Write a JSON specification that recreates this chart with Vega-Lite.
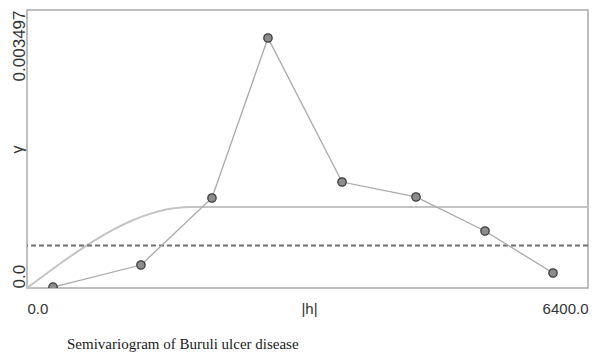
{
  "$schema": "https://vega.github.io/schema/vega-lite/v6.json",
  "width": 561,
  "height": 278,
  "autosize": {"type": "none"},
  "padding": {"left": 27, "top": 10, "right": 5, "bottom": 68},
  "background": "white",
  "config": {
    "view": {"stroke": "#a9a9a9", "strokeWidth": 1.5},
    "font": "Liberation Sans"
  },
  "title": {
    "text": "Semivariogram of Buruli ulcer disease",
    "orient": "bottom",
    "anchor": "start",
    "frame": "group",
    "font": "Liberation Serif",
    "fontSize": 15,
    "fontWeight": "normal",
    "color": "#1a1a1a",
    "dx": 40,
    "offset": 21
  },
  "datasets": {
    "model": [
      {"h": 0, "gamma": 0},
      {"h": 200, "gamma": 0.000164},
      {"h": 400, "gamma": 0.000324},
      {"h": 600, "gamma": 0.000476},
      {"h": 800, "gamma": 0.000617},
      {"h": 1000, "gamma": 0.000743},
      {"h": 1200, "gamma": 0.000849},
      {"h": 1400, "gamma": 0.000933},
      {"h": 1600, "gamma": 0.000991},
      {"h": 1800, "gamma": 0.001017},
      {"h": 1860, "gamma": 0.001019},
      {"h": 6400, "gamma": 0.001019}
    ],
    "empirical": [
      {"h": 297, "gamma": 0.000012},
      {"h": 1300, "gamma": 0.000289},
      {"h": 2110, "gamma": 0.001132},
      {"h": 2749, "gamma": 0.003145},
      {"h": 3594, "gamma": 0.001333},
      {"h": 4438, "gamma": 0.001145},
      {"h": 5225, "gamma": 0.000717},
      {"h": 6001, "gamma": 0.000189}
    ],
    "nugget": [{"gamma": 0.000535}]
  },
  "layer": [
    {
      "data": {"name": "model"},
      "mark": {"type": "line", "color": "#c4c4c4", "strokeWidth": 2, "interpolate": "monotone", "clip": true},
      "encoding": {
        "x": {
          "field": "h", "type": "quantitative",
          "scale": {"domain": [0, 6400], "nice": false, "zero": false},
          "axis": {
            "values": [0, 6400], "format": ".1f", "labelFlush": true,
            "tickSize": 0, "domain": false, "grid": false,
            "labelFont": "Liberation Sans", "labelFontSize": 15, "labelColor": "#333333",
            "labelBaseline": "alphabetic", "labelPadding": 25,
            "title": "|h|", "titleFont": "Liberation Sans", "titleFontSize": 15,
            "titleFontWeight": "normal", "titleColor": "#333333",
            "titleBaseline": "alphabetic", "titleY": 25, "titleX": 282, "titleAlign": "center"
          }
        },
        "y": {
          "field": "gamma", "type": "quantitative",
          "scale": {"domain": [0, 0.003497], "nice": false, "zero": false},
          "axis": {
            "values": [0, 0.003497],
            "labelExpr": "datum.value == 0 ? '0.0' : '0.003497'",
            "labelAngle": -90,
            "labelAlign": {"expr": "datum.value == 0 ? 'left' : 'right'"},
            "labelBaseline": "alphabetic",
            "labelPadding": 3,
            "tickSize": 0, "domain": false, "grid": false,
            "labelFont": "Liberation Sans", "labelFontSize": 17, "labelColor": "#333333",
            "title": "γ", "titleFont": "Liberation Sans", "titleFontSize": 16,
            "titleFontWeight": "normal", "titleColor": "#333333",
            "titleAngle": -90, "titleX": -5, "titleY": 139,
            "titleAlign": "center", "titleBaseline": "alphabetic"
          }
        }
      }
    },
    {
      "data": {"name": "nugget"},
      "mark": {"type": "rule", "color": "#707070", "strokeWidth": 2, "strokeDash": [5, 3]},
      "encoding": {"y": {"field": "gamma", "type": "quantitative"}}
    },
    {
      "data": {"name": "empirical"},
      "mark": {"type": "line", "color": "#a8a8a8", "strokeWidth": 1.3},
      "encoding": {
        "x": {"field": "h", "type": "quantitative"},
        "y": {"field": "gamma", "type": "quantitative"}
      }
    },
    {
      "data": {"name": "empirical"},
      "mark": {"type": "point", "filled": true, "fill": "#8c8c8c", "stroke": "#3c3c3c", "strokeWidth": 1.3, "size": 70, "opacity": 1, "clip": true},
      "encoding": {
        "x": {"field": "h", "type": "quantitative"},
        "y": {"field": "gamma", "type": "quantitative"}
      }
    }
  ]
}
